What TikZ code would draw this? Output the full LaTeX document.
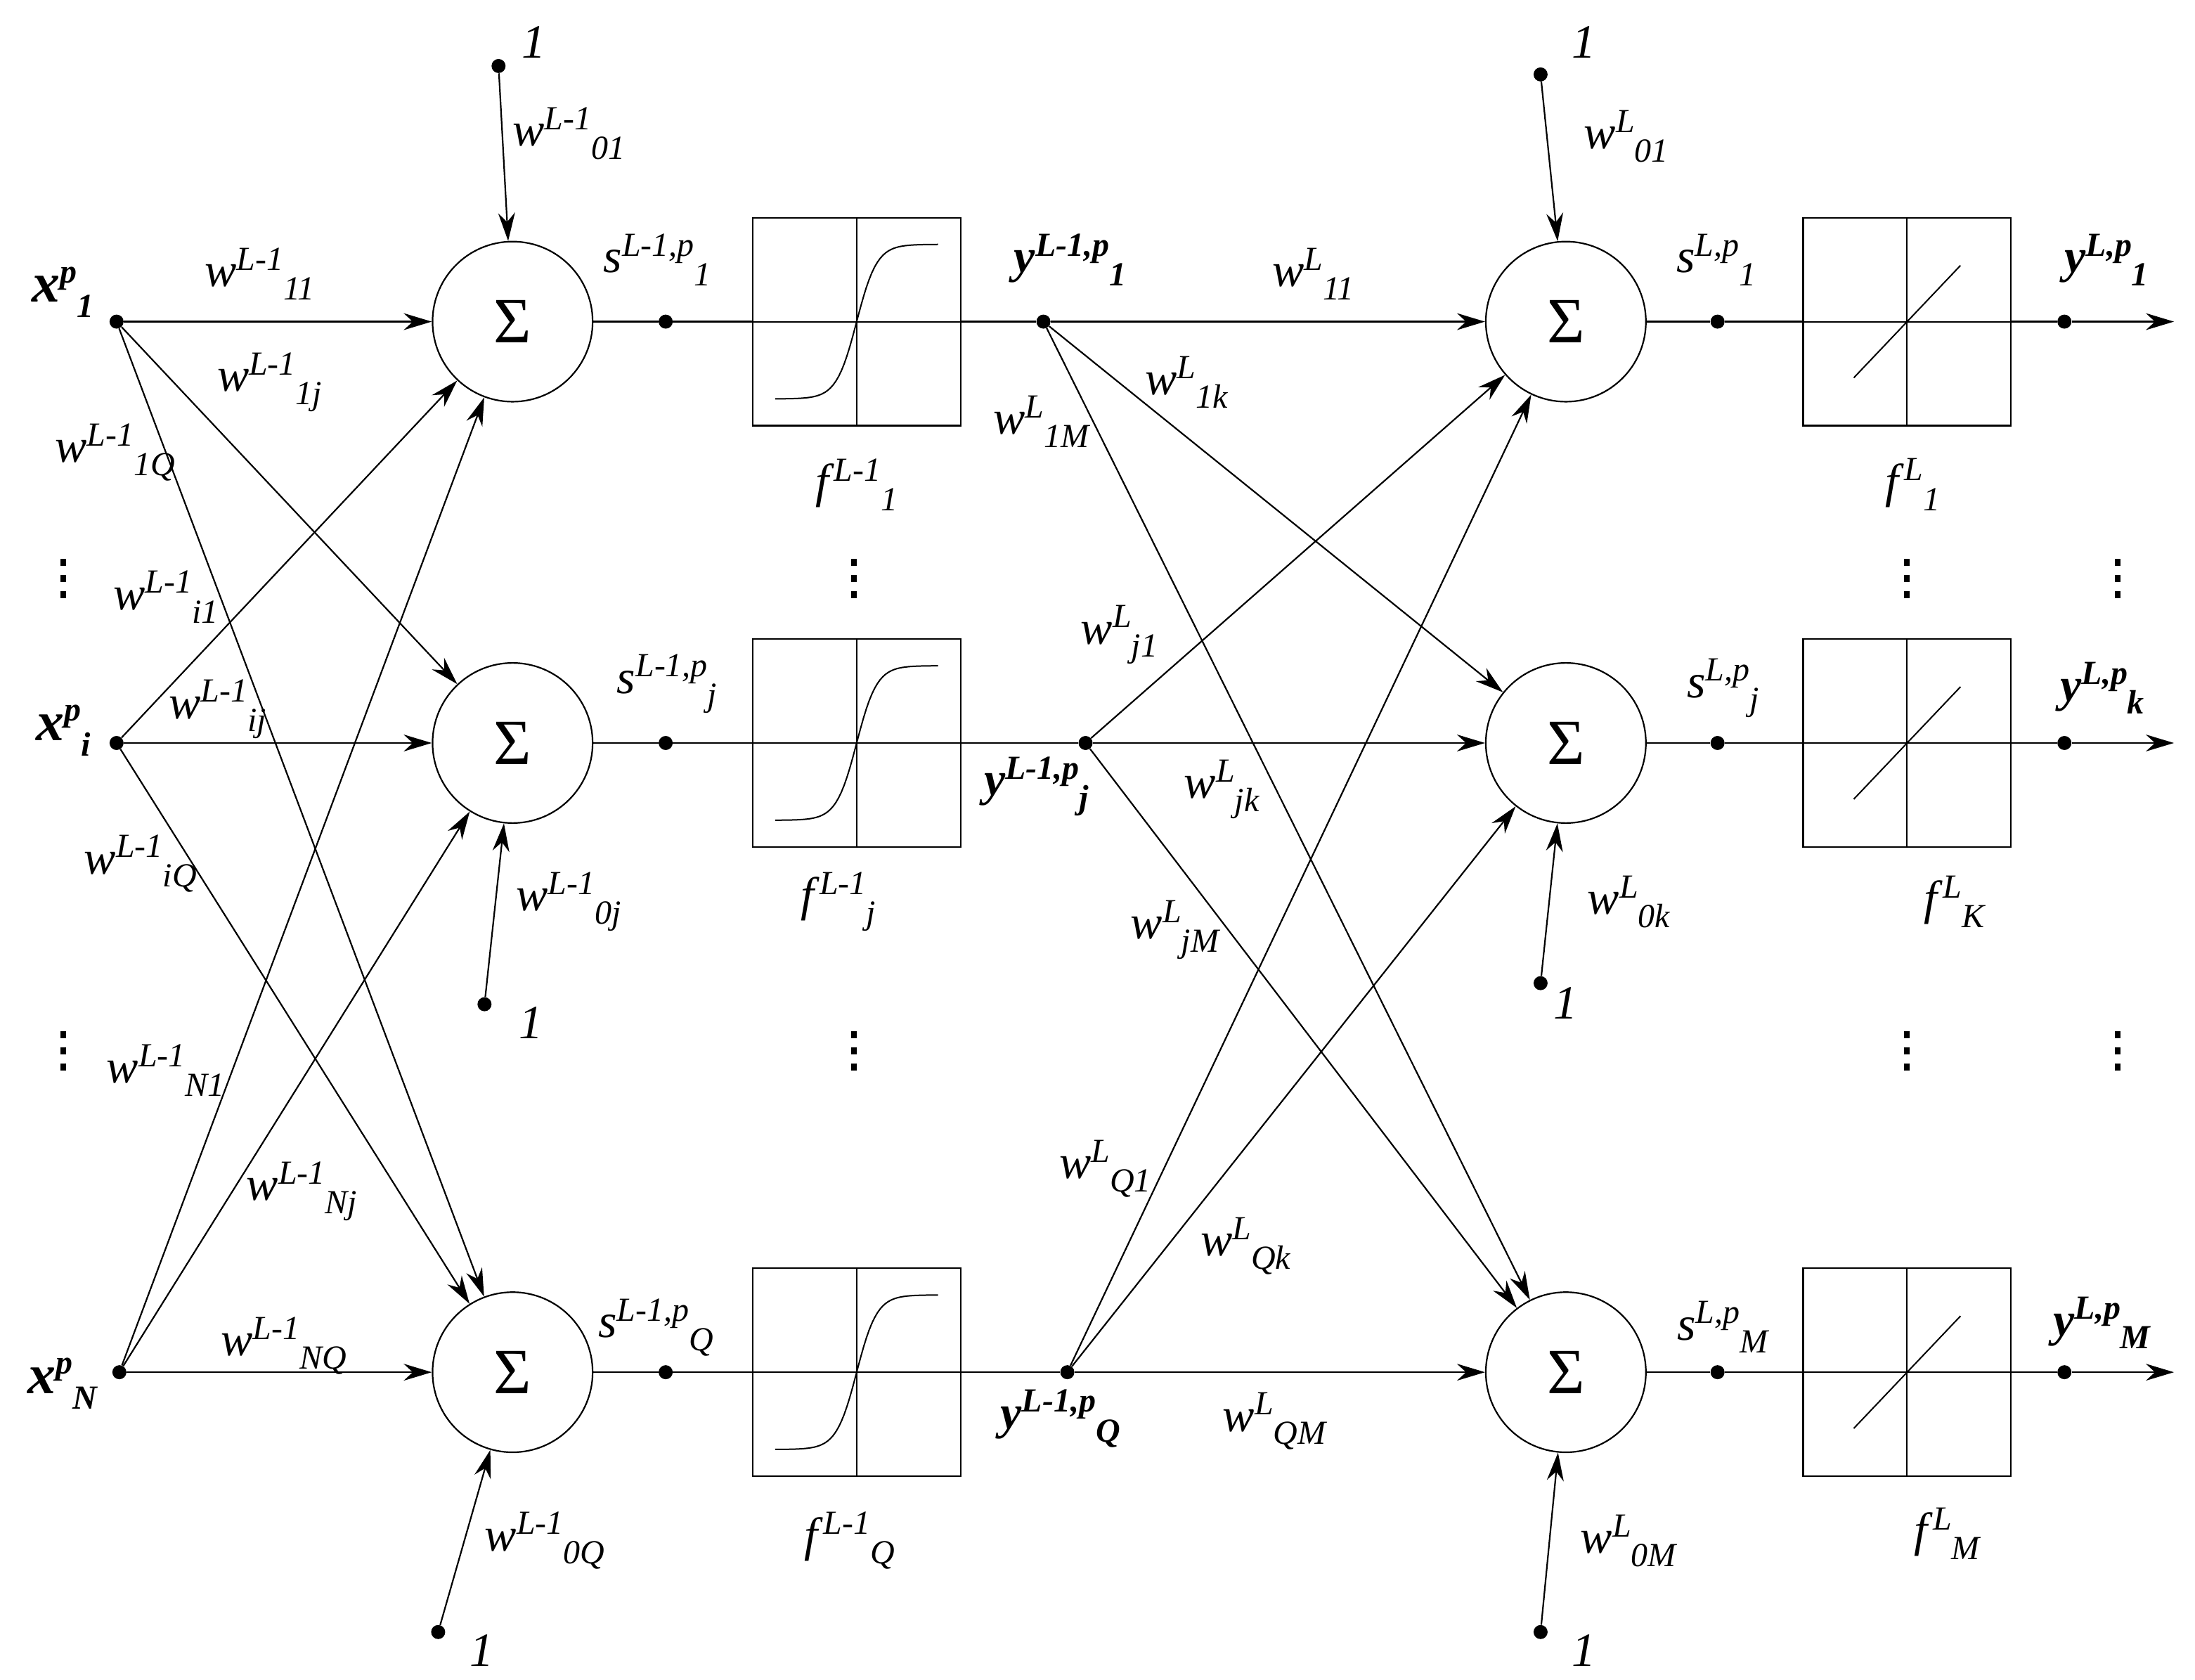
\documentclass[tikz,border=0pt]{standalone}
\usepackage{fontspec}
\setmainfont{Liberation Serif}
\usetikzlibrary{arrows.meta}
\newcommand{\lw}[3]{\textit{#1}\raisebox{0.75ex}{\fontsize{24}{24}\selectfont\textit{#2}}\raisebox{-0.6ex}{\fontsize{24}{24}\selectfont\textit{#3}}}
\newcommand{\lb}[3]{\textbf{\textit{#1}}\raisebox{0.75ex}{\fontsize{24}{24}\selectfont\textbf{\textit{#2}}}\raisebox{-0.6ex}{\fontsize{24}{24}\selectfont\textbf{\textit{#3}}}}
\begin{document}
\begin{tikzpicture}[x=1pt,y=-1pt,
  ar/.style={-{Stealth[length=20pt,width=12pt]},line width=1.1pt},
  ln/.style={line width=1.1pt},
  sum/.style={circle,draw,line width=1.1pt,minimum size=114pt,inner sep=0pt,font=\fontsize{46}{46}\selectfont},
  box/.style={draw,line width=1.1pt,minimum size=148pt,inner sep=0pt},
  dot/.style={circle,fill,inner sep=0pt,minimum size=10pt},
  lab/.style={font=\fontsize{34}{34}\selectfont,inner sep=0pt},
  blab/.style={font=\fontsize{40}{40}\selectfont,inner sep=0pt},
  vd/.style={line width=4pt}]
\useasboundingbox (0,0) rectangle (1563,1196);
\foreach \n/\y in {1/229,2/529,3/977}{
  \node[sum] (S\n) at (365,\y) {Σ};
  \node[box] (B\n) at (610,\y) {};
  \node[sum] (T\n) at (1115,\y) {Σ};
  \node[box] (C\n) at (1358,\y) {};
  \node[dot] (s\n) at (474,\y) {};
  \node[dot] (t\n) at (1223,\y) {};
  \node[dot] (o\n) at (1470,\y) {};
  \coordinate (e\n) at (1548,\y);
  \draw[ln] (S\n) -- (s\n) -- (B\n);
  \draw[ln] (T\n) -- (t\n) -- (C\n);
  \draw[ln] (C\n) -- (o\n);
  \draw[ar] (o\n) -- (e\n);
  \draw[line width=1pt] (535,\y) -- (685,\y);
  \draw[line width=1pt] (610,\y-74) -- (610,\y+74);
  \draw[line width=1pt] plot[domain=-1:1,samples=60] ({610+58*\x},{\y-55*tanh(4*\x)});
  \draw[line width=1pt] (1283,\y) -- (1433,\y);
  \draw[line width=1pt] (1358,\y-74) -- (1358,\y+74);
  \draw[line width=1pt] (1320,\y+40) -- (1396,\y-40);
}
\node[dot] (x1) at (83,229) {};
\node[dot] (x2) at (83,529) {};
\node[dot] (x3) at (85,977) {};
\node[dot] (y1) at (743,229) {};
\node[dot] (y2) at (773,529) {};
\node[dot] (y3) at (760,977) {};
\foreach \n in {1,2,3}{
  \draw[ln] (B\n) -- (y\n);
  \foreach \m in {1,2,3}{
    \draw[ar] (x\n) -- (S\m);
    \draw[ar] (y\n) -- (T\m);
  }
}
\node[dot] (a1) at (355,47) {};
\node[dot] (a2) at (345,715) {};
\node[dot] (a3) at (312,1162) {};
\node[dot] (b1) at (1097,53) {};
\node[dot] (b2) at (1097,700) {};
\node[dot] (b3) at (1097,1162) {};
\foreach \n in {1,2,3}{\draw[ar] (a\n) -- (S\n); \draw[ar] (b\n) -- (T\n);}
\foreach \p/\x/\y in {o1/380/30,o2/378/728,o3/343/1175,o4/1128/30,o5/1115/714,o6/1128/1175}
  \node[lab] (\p) at (\x,\y) {\textit{1}};
\node[blab] (X1) at (45,208) {\lb{x}{p}{1}};
\node[blab] (X2) at (45,520) {\lb{x}{p}{i}};
\node[blab] (X3) at (45,985) {\lb{x}{p}{N}};
\foreach \p/\x/\y/\s in {w1/185/195/11,w2/192/272/1j,w3/82/322/1Q,w4/118/425/i1,w5/155/505/ij,w6/100/615/iQ,w7/118/762/N1,w8/215/848/Nj,w9/202/958/NQ,w10/405/95/01,w11/405/642/0j,w12/388/1097/0Q}
  \node[lab] (\p) at (\x,\y) {\lw{w}{L-1}{\s}};
\foreach \p/\x/\y/\s in {s1/468/185/1,s2/475/487/j,s3/467/945/Q}
  \node[lab] (\p) at (\x,\y) {\lw{s}{L-1,p}{\s}};
\foreach \p/\x/\y/\s in {f1/610/345/1,f2/597/642/j,f3/605/1097/Q}
  \node[lab] (\p) at (\x,\y) {\lw{f}{L-1}{\s}};
\foreach \p/\x/\y/\s in {Y1/762/185/1,Y2/738/560/j,Y3/755/1010/Q}
  \node[lab] (\p) at (\x,\y) {\lb{y}{L-1,p}{\s}};
\foreach \p/\x/\y/\s in {v1/935/195/11,v2/742/300/1M,v3/845/272/1k,v4/797/452/j1,v5/870/562/jk,v6/837/662/jM,v7/787/832/Q1,v8/887/887/Qk,v9/908/1012/QM,v10/1158/97/01,v11/1160/642/0k,v12/1160/1097/0M}
  \node[lab] (\p) at (\x,\y) {\lw{w}{L}{\s}};
\foreach \p/\x/\y/\s in {r1/1222/185/1,r2/1227/490/j,r3/1227/945/M}
  \node[lab] (\p) at (\x,\y) {\lw{s}{L,p}{\s}};
\foreach \p/\x/\y/\s in {g1/1362/345/1,g2/1392/642/K,g3/1387/1092/M}
  \node[lab] (\p) at (\x,\y) {\lw{f}{L}{\s}};
\foreach \p/\x/\y/\s in {z1/1500/185/1,z2/1497/490/k,z3/1497/942/M}
  \node[lab] (\p) at (\x,\y) {\lb{y}{L,p}{\s}};
\foreach \x/\y in {45/412,45/748,608/412,608/748,1358/412,1358/748,1508/412,1508/748}
  \draw[vd] (\x,\y-14) -- ++(0,5) (\x,\y-2.5) -- ++(0,5) (\x,\y+9) -- ++(0,5);
\end{tikzpicture}
\end{document}
